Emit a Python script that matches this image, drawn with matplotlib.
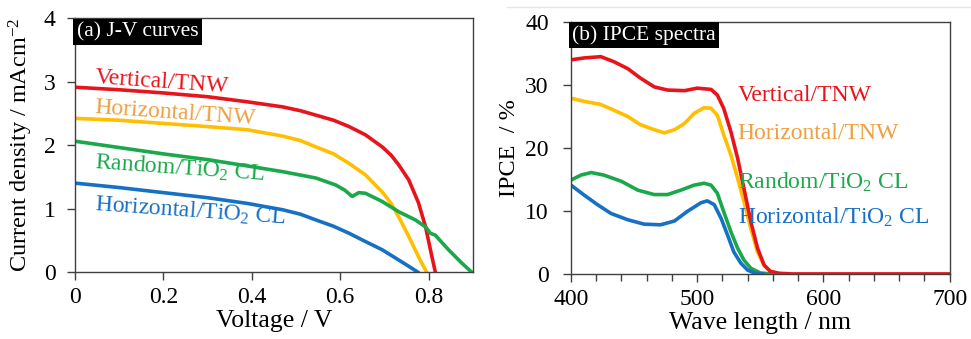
import matplotlib.pyplot as plt
from matplotlib.lines import Line2D
import numpy as np

plt.rcParams['font.family'] = ['Liberation Serif', 'DejaVu Serif']
plt.rcParams['mathtext.fontset'] = 'custom'
plt.rcParams['mathtext.rm'] = 'Liberation Serif'
plt.rcParams['mathtext.it'] = 'Liberation Serif:italic'

# colours
red = '#e8141c'
orange = '#ffbf00'
green = '#1aa84a'
blue = '#1670c4'
orange_txt = '#eea040'

# (a) J-V curves: voltage (V), current density (mA/cm2)
v_red = [0, 0.1, 0.2, 0.3, 0.39, 0.47, 0.51, 0.545, 0.585, 0.62, 0.657, 0.695, 0.715, 0.732,
         0.755, 0.777, 0.793, 0.804, 0.815]
j_red = [2.91, 2.87, 2.82, 2.76, 2.68, 2.60, 2.54, 2.47, 2.39, 2.29, 2.16, 1.97, 1.84, 1.69,
         1.45, 1.09, 0.71, 0.35, 0.0]

v_orange = [0, 0.1, 0.2, 0.3, 0.39, 0.47, 0.51, 0.545, 0.585, 0.62, 0.657, 0.695, 0.715, 0.732,
            0.755, 0.777, 0.795]
j_orange = [2.42, 2.39, 2.34, 2.29, 2.24, 2.14, 2.07, 1.97, 1.86, 1.71, 1.53, 1.26, 1.08, 0.87,
            0.56, 0.24, 0.0]

v_green = [0, 0.1, 0.2, 0.3, 0.39, 0.47, 0.545, 0.59, 0.61, 0.627, 0.642, 0.657, 0.695,
           0.732, 0.77, 0.793, 0.804, 0.815, 0.845, 0.875, 0.897]
j_green = [2.06, 1.96, 1.86, 1.77, 1.67, 1.58, 1.48, 1.37, 1.29, 1.19, 1.25, 1.24, 1.11,
           0.95, 0.82, 0.71, 0.61, 0.58, 0.35, 0.14, 0.0]

v_blue = [0, 0.1, 0.2, 0.3, 0.39, 0.47, 0.51, 0.545, 0.585, 0.62, 0.657, 0.695, 0.732, 0.755,
          0.775]
j_blue = [1.40, 1.33, 1.25, 1.17, 1.08, 0.98, 0.91, 0.82, 0.72, 0.61, 0.48, 0.35, 0.19, 0.09,
          0.0]

# (b) IPCE spectra: wavelength (nm), IPCE (%)
wl_red = [400, 410.6, 423.7, 434, 445, 455, 466, 476.5, 490, 500, 511, 516, 521, 526.7, 532,
          537, 542.5, 547.8, 553, 558, 565, 575, 600, 650, 700]
ipce_red = [34.0, 34.3, 34.5, 33.7, 32.6, 31.1, 29.7, 29.2, 29.1, 29.5, 29.3, 28.4, 26.3, 22.6,
            18.4, 13.6, 8.3, 4.1, 1.4, 0.4, 0.1, 0.0, 0.0, 0.0, 0.0]

wl_orange = [400, 410.6, 423.7, 434, 445, 455, 466, 474, 482, 490, 497.6, 505.5, 511, 516, 521,
             526.7, 532, 537, 542.5, 547.8, 553, 558, 565]
ipce_orange = [27.9, 27.4, 26.9, 26.0, 25.0, 23.7, 22.9, 22.4, 22.9, 23.9, 25.5, 26.4, 26.3, 25.2,
               22.1, 18.9, 15.2, 11.5, 7.2, 3.5, 1.4, 0.4, 0.0]

wl_green = [400, 408, 416, 426, 440, 453, 466, 476.5, 487, 497.6, 505.5, 511, 516, 521, 526.7,
            532, 537, 542.5, 550, 558]
ipce_green = [14.9, 15.7, 16.1, 15.7, 14.7, 13.3, 12.6, 12.6, 13.3, 14.1, 14.4, 14.1, 12.8, 9.9,
              6.7, 4.1, 2.2, 0.9, 0.15, 0.0]

wl_blue = [400, 410.6, 421, 431.7, 445, 458, 471, 482, 492, 503, 508, 513.5, 519, 524, 529,
           534.6, 540, 546, 552]
ipce_blue = [14.1, 12.5, 11.0, 9.6, 8.6, 7.9, 7.8, 8.4, 9.9, 11.3, 11.6, 11.0, 8.8, 6.2, 3.5,
             1.7, 0.6, 0.1, 0.0]

labels = ['Vertical/TNW', 'Horizontal/TNW', 'Random/TiO$_2$ CL', 'Horizontal/TiO$_2$ CL']

fig = plt.figure(figsize=(9.71, 3.39), dpi=100)
ax1 = fig.add_axes([0.0772, 0.1976, 0.4098, 0.7493])
ax2 = fig.add_axes([0.588, 0.192, 0.390, 0.743])

# faint scan line at the top of panel (b)
fig.add_artist(Line2D([0.522, 1.0], [0.979, 0.979], color='#e6e6e6', lw=1.0))

lw = 2.6
ax1.plot(v_red, j_red, color=red, lw=lw, solid_joinstyle='round')
ax1.plot(v_orange, j_orange, color=orange, lw=lw, solid_joinstyle='round')
ax1.plot(v_green, j_green, color=green, lw=lw, solid_joinstyle='round')
ax1.plot(v_blue, j_blue, color=blue, lw=lw, solid_joinstyle='round')
ax1.set_xlim(0, 0.9)
ax1.set_ylim(0, 4)
ax1.set_xticks([0, 0.2, 0.4, 0.6, 0.8])
ax1.set_xticklabels(['0', '0.2', '0.4', '0.6', '0.8'])
ax1.set_yticks([0, 1, 2, 3, 4])
ax1.set_xlabel('Voltage / V', fontsize=18.5, labelpad=1)
ax1.set_ylabel('Current density / mAcm$^{-2}$', fontsize=17.5, labelpad=6)

fs = 17
rot = -4
ax1.text(0.045, 2.97, labels[0], color=red, fontsize=fs, rotation=rot, rotation_mode='anchor')
ax1.text(0.045, 2.50, labels[1], color=orange_txt, fontsize=fs, rotation=rot, rotation_mode='anchor')
ax1.text(0.045, 1.63, labels[2], color=green, fontsize=fs, rotation=rot, rotation_mode='anchor')
ax1.text(0.045, 0.97, labels[3], color=blue, fontsize=fs, rotation=rot, rotation_mode='anchor')
ax1.text(0.004, 3.93, '(a) J-V curves', color='white', fontsize=15.5, va='top', ha='left',
         bbox=dict(facecolor='black', edgecolor='none', pad=2.5))

ax2.plot(wl_orange, ipce_orange, color=orange, lw=lw, solid_joinstyle='round')
ax2.plot(wl_green, ipce_green, color=green, lw=lw, solid_joinstyle='round')
ax2.plot(wl_blue, ipce_blue, color=blue, lw=lw, solid_joinstyle='round')
ax2.plot(wl_red, ipce_red, color=red, lw=lw, solid_joinstyle='round')
ax2.set_xlim(400, 700)
ax2.set_ylim(0, 40)
ax2.set_xticks([400, 500, 600, 700])
ax2.set_xticks(np.arange(400, 701, 20), minor=True)
ax2.set_yticks([0, 10, 20, 30, 40])
ax2.set_xlabel('Wave length / nm', fontsize=18.5, labelpad=1)
ax2.set_ylabel('IPCE  / %', fontsize=17.5, labelpad=4)

ax2.text(532, 28.4, labels[0], color=red, fontsize=fs, va='center')
ax2.text(532, 22.3, labels[1], color=orange_txt, fontsize=fs, va='center')
ax2.text(532, 14.6, labels[2], color=green, fontsize=fs, va='center')
ax2.text(532, 9.0, labels[3], color=blue, fontsize=fs, va='center')
ax2.text(401, 39.5, '(b) IPCE spectra', color='white', fontsize=15.5, va='top', ha='left',
         bbox=dict(facecolor='black', edgecolor='none', pad=2.5))

for ax in (ax1, ax2):
    for s in ax.spines.values():
        s.set_color('#404040')
        s.set_linewidth(1.0)
    ax.tick_params(axis='both', which='major', labelsize=17, length=6, width=1,
                   color='#404040', direction='out')
    ax.tick_params(axis='x', which='minor', length=5, width=1, color='#404040')
    ax.tick_params(axis='x', pad=5)
ax1.tick_params(axis='y', pad=8)
ax2.tick_params(axis='y', pad=10)

fig.savefig('out.png', dpi=100)
